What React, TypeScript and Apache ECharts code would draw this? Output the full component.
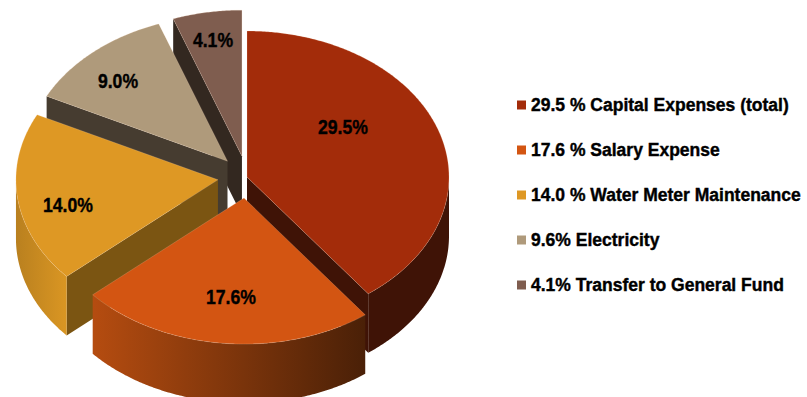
import React, { useEffect, useRef } from "react";
import * as echarts from "echarts";

// Budget shares, clockwise from twelve o'clock.
const legendNames = [
  "29.5 % Capital Expenses (total)",
  "17.6 % Salary Expense",
  "14.0 % Water Meter Maintenance",
  "9.6% Electricity",
  "4.1% Transfer to General Fund",
];
const shareValues = [29.5, 17.6, 14.0, 9.0, 4.1];

const topColors = ["#A32C0A", "#D35512", "#DE9824", "#AF9A7B", "#7F5D4F"];
const wallColors = ["#3F1306", "#4A2007", "#7B5512", "#463C30", "#332820"];
// Rim shading runs left to right across each slice's outer edge.
const rimStops: [string, string][] = [
  ["#3F1306", "#3F1306"],
  ["#B54C10", "#4A2007"],
  ["#B9801F", "#DA9623"],
  ["#463C30", "#463C30"],
  ["#332820", "#332820"],
];
const explodeFractions = [0, 0.145, 0.145, 0.145, 0.145];
const labelPositions = [
  [343, 127],
  [231, 297],
  [68, 205],
  [118, 81],
  [213, 40],
];
// Paint back-to-front so nearer slices cover the walls behind them.
const paintOrder = [4, 3, 2, 0, 1];

const CENTER_X = 247;
const CENTER_Y = 177;
const RADIUS_X = 202;
const RADIUS_Y = 146;
const DEPTH = 59;
const FONT = '"Liberation Sans", Arial, sans-serif';

const total = shareValues.reduce((a, b) => a + b, 0);
const sliceAngles = shareValues.map((_, i) => {
  const before = shareValues.slice(0, i).reduce((a, b) => a + b, 0);
  return [(before / total) * 360, ((before + shareValues[i]) / total) * 360];
});

const ellipsePoint = (cx: number, cy: number, deg: number) => {
  const t = (deg * Math.PI) / 180;
  return [cx + RADIUS_X * Math.sin(t), cy - RADIUS_Y * Math.cos(t)];
};

const sampleArc = (cx: number, cy: number, from: number, to: number) => {
  const pts: number[][] = [];
  const steps = Math.max(2, Math.ceil(Math.abs(to - from) * 2));
  for (let k = 0; k <= steps; k++) {
    pts.push(ellipsePoint(cx, cy, from + ((to - from) * k) / steps));
  }
  return pts;
};

const renderSlice = (index: number) => (_params: any, api: any) => {
  const start = api.value(0);
  const end = api.value(1);
  const value = api.value(2);
  const mid = (((start + end) / 2) * Math.PI) / 180;
  const k = explodeFractions[index];
  const cx = CENTER_X + RADIUS_X * k * Math.sin(mid);
  const cy = CENTER_Y - RADIUS_Y * k * Math.cos(mid);
  const children: any[] = [];

  const wall = (deg: number) => {
    const p = ellipsePoint(cx, cy, deg);
    children.push({
      type: "polygon",
      shape: {
        points: [
          [cx, cy],
          p,
          [p[0], p[1] + DEPTH],
          [cx, cy + DEPTH],
        ],
      },
      style: { fill: wallColors[index] },
    });
  };
  // A cut face shows only when it turns toward the viewer.
  if (start > 180 && start < 360) wall(start);
  if (end > 0 && end < 180) wall(end);

  // Outer rim: the lower half of the ellipse is the part that faces front.
  const rimFrom = Math.max(start, 90);
  const rimTo = Math.min(end, 270);
  if (rimTo > rimFrom) {
    const upper = sampleArc(cx, cy, rimFrom, rimTo);
    const lower = upper.map((p) => [p[0], p[1] + DEPTH]).reverse();
    children.push({
      type: "polygon",
      shape: { points: upper.concat(lower) },
      style: {
        fill: new echarts.graphic.LinearGradient(1, 0, 0, 0, [
          { offset: 0, color: rimStops[index][1] },
          { offset: 1, color: rimStops[index][0] },
        ]),
      },
    });
  }

  children.push({
    type: "polygon",
    shape: { points: [[cx, cy], ...sampleArc(cx, cy, start, end)] },
    style: {
      fill: topColors[index],
      stroke: "rgba(255,225,200,0.28)",
      lineWidth: 0.7,
    },
  });

  // Condensed bold percentage on the top face.
  children.push({
    type: "text",
    x: labelPositions[index][0],
    y: labelPositions[index][1],
    scaleX: 0.86,
    style: {
      text: `${value.toFixed(1)}%`,
      fontFamily: FONT,
      fontWeight: "bold",
      fontSize: 20.5,
      fill: "#000000",
      stroke: "#000000",
      lineWidth: 0.4,
      align: "center",
      verticalAlign: "middle",
    },
  });

  return { type: "group", children };
};

export default function App() {
  const ref = useRef<HTMLDivElement>(null);

  useEffect(() => {
    const chart = echarts.init(ref.current!, undefined, { renderer: "svg" });
    chart.setOption({
      animation: false,
      backgroundColor: "#ffffff",
      legend: {
        data: legendNames,
        orient: "vertical",
        left: 512,
        top: 90,
        padding: 5,
        itemWidth: 9,
        itemHeight: 9,
        itemGap: 25,
        icon: "rect",
        selectedMode: false,
        textStyle: {
          fontFamily: FONT,
          fontWeight: "bold",
          fontSize: 17.5,
          lineHeight: 20,
          color: "#000000",
          textBorderColor: "#000000",
          textBorderWidth: 0.4,
        },
      },
      series: paintOrder.map((i) => ({
        type: "custom",
        name: legendNames[i],
        coordinateSystem: "none",
        silent: true,
        itemStyle: { color: topColors[i] },
        data: [[sliceAngles[i][0], sliceAngles[i][1], shareValues[i]]],
        renderItem: renderSlice(i),
      })),
    });
    return () => chart.dispose();
  }, []);

  return (
    <div
      ref={ref}
      style={{ position: "absolute", left: 0, top: 0, width: 807, height: 397 }}
    />
  );
}
